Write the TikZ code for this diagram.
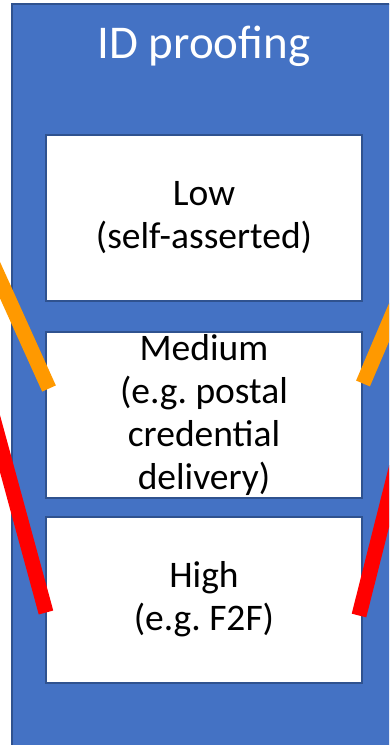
\documentclass[tikz,border=0pt]{standalone}
\usepackage{fontspec}
\setmainfont{Carlito}
\frenchspacing
\usetikzlibrary{positioning}
\definecolor{panelblue}{HTML}{4472C4}
\definecolor{edgeblue}{HTML}{2F528F}
\definecolor{lineorange}{RGB}{255,153,0}
\tikzset{
  level/.style={draw=edgeblue, line width=2pt, fill=white, inner sep=0pt,
    minimum width=316pt, minimum height=166pt, align=center,
    font=\fontsize{37.5}{43}\selectfont},
  stroke/.style={line width=15pt, line cap=butt}
}

\begin{document}
\begin{tikzpicture}[x=1pt, y=-1pt]
				\clip (0,0) rectangle (389,745);
				% draw panel
				\draw[edgeblue, line width=2pt, fill=panelblue] (12,4) rectangle (400,760);
				\node[anchor=base, text=white, font=\fontsize{47}{56}\selectfont] (title) at (204,58) {ID proofing};
				% add levels
				\node[level] (low) at (204,218) {Low\\(self-asserted)};
				\node[level] (medium) at (204,414.5) {Medium\\(e.g. postal\\credential\\delivery)};
				\node[level] (high) at (204,599.5) {High\\(e.g. F2F)};
				
				% free ends outside
				\coordinate (oin) at (-10,258);
				\coordinate (oout) at (399,299);
				\coordinate (rin) at (-10,407);
				\coordinate (rout) at (399,457);
				% ends on the boxes
				\coordinate (oa) at ([shift={(4,-26)}]medium.west);
				\coordinate (ob) at ([shift={(0,-31)}]medium.east);
				\coordinate (ra) at ([shift={(1,13)}]high.west);
				\coordinate (rb) at ([shift={(-4,16)}]high.east);
				
				\draw[stroke, lineorange] (oin) -- (oa);
				\draw[stroke, lineorange] (oout) -- (ob);
				\draw[stroke, red] (rin) -- (ra);
				\draw[stroke, red] (rout) -- (rb);
			\end{tikzpicture}
\end{document}
